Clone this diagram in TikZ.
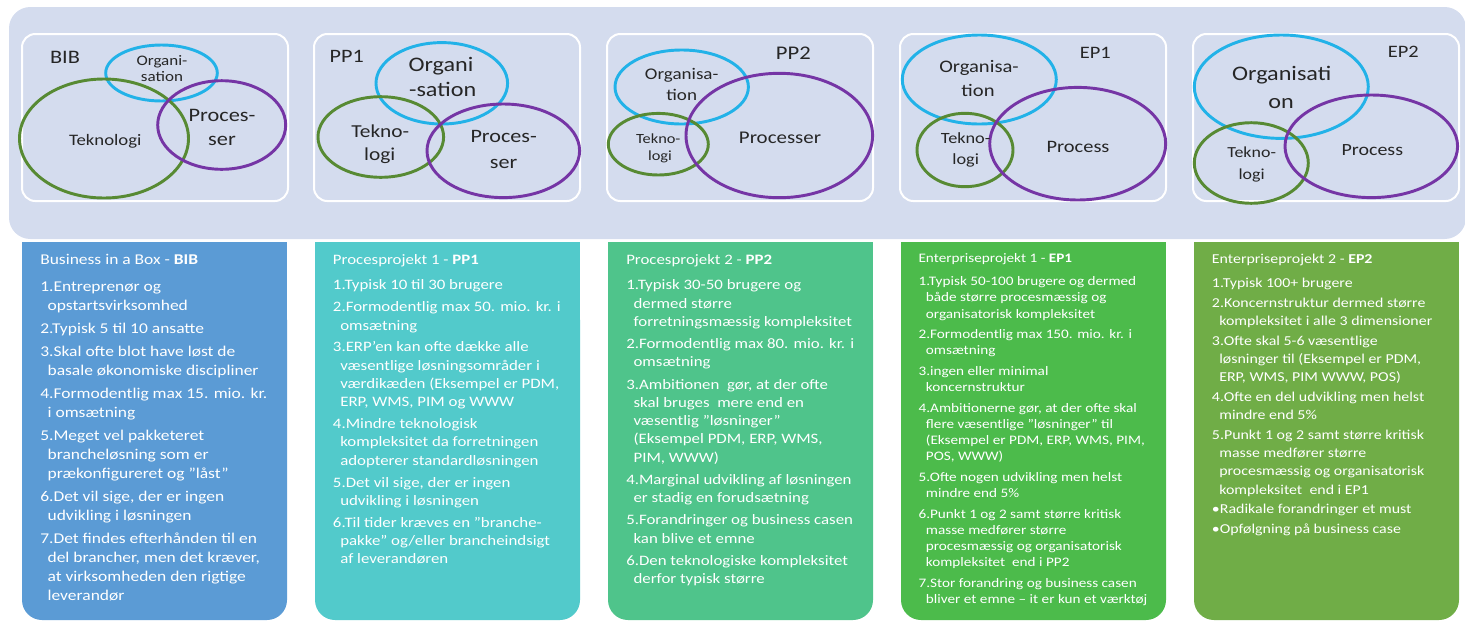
\documentclass[tikz,border=0pt]{standalone}
\usepackage{fontspec}
\setmainfont{Carlito}[FakeStretch=1.17]

\definecolor{bgpanel}{HTML}{D4DCEE}
\definecolor{orgcyan}{HTML}{22B2E8}
\definecolor{tekgreen}{HTML}{578A33}
\definecolor{procpurple}{HTML}{7535A5}
\definecolor{bibblue}{HTML}{5B9BD5}
\definecolor{ppteal}{HTML}{52CACB}
\definecolor{ppgreen}{HTML}{4FC48B}
\definecolor{epgreen}{HTML}{4CBB4B}
\definecolor{epolive}{HTML}{70AD47}
\definecolor{labelink}{HTML}{262626}

% list layout inside the coloured columns
\newlength\bxgap
\newcommand\contline{\\\hspace*{5.5pt}}
\newcommand\nextitem{\\[\bxgap]}
% #1 size, #2 leading, #3 gap between items, #4 title, #5 gap after title, #6 items
\newcommand\boxtext[6]{\parbox[t]{320pt}{\raggedright\fontsize{#1}{#2}\selectfont
  \setlength\bxgap{#3}#4\\[#5]#6}}
\newcommand\fsz[1]{\fontsize{#1}{#1}\selectfont}

\begin{document}
\begin{tikzpicture}[x=0.75pt,y=-0.75pt,
  panel/.style={draw=white, line width=1.5pt, fill=bgpanel, rounded corners=10pt},
  org/.style={draw=orgcyan, line width=2.2pt},
  tek/.style={draw=tekgreen, line width=2.2pt},
  proc/.style={draw=procpurple, line width=2.2pt},
  vl/.style={anchor=base, inner sep=0pt, text=labelink},
  bx/.style={anchor=base west, inner sep=0pt, text=white}]
\useasboundingbox (0,0) rectangle (1465,622);

% band behind the five diagrams
\fill[bgpanel, rounded corners=16pt] (9,7) rectangle (1466,239);

% diagram frames
\draw[panel] (22,34) rectangle (288,201);
\draw[panel] (314,34) rectangle (580,201);
\draw[panel] (607,34) rectangle (873,201);
\draw[panel] (900,34) rectangle (1166,201);
\draw[panel] (1193,34) rectangle (1459,201);

% ---- BIB
\draw[org]  (161.5,73) ellipse [x radius=55.8, y radius=28];
\draw[tek]  (104,138.5) ellipse [x radius=84.5, y radius=59.5];
\draw[proc] (221.7,125) ellipse [x radius=64, y radius=44.3];
\node[vl, font=\fsz{14.3pt}] (bibname) at (65,63.3) {BIB};
\node[vl, font=\fsz{10.9pt}] (biborga) at (162,65) {Organi-};
\node[vl, font=\fsz{10.9pt}] (biborgb) at (162,81.7) {sation};
\node[vl, font=\fsz{12pt}] (bibtek) at (105.3,145) {Teknologi};
\node[vl, font=\fsz{14.3pt}] (bibproca) at (222,121.7) {Proces-};
\node[vl, font=\fsz{14.3pt}] (bibprocb) at (222,145) {ser};

% ---- PP1
\draw[org]  (441.8,83.3) ellipse [x radius=65.8, y radius=40.7];
\draw[tek]  (380.8,137) ellipse [x radius=62.8, y radius=40.3];
\draw[proc] (503.3,150.8) ellipse [x radius=76.3, y radius=46.8];
\node[vl, font=\fsz{14.2pt}] (ppaname) at (346.7,62.7) {PP1};
\node[vl, font=\fsz{15.5pt}] (ppaorga) at (441,71.7) {Organi};
\node[vl, font=\fsz{15.5pt}] (ppaorgb) at (442.7,96) {-sation};
\node[vl, font=\fsz{13.7pt}] (ppateka) at (380.3,137.3) {Tekno-};
\node[vl, font=\fsz{13.7pt}] (ppatekb) at (379.7,160.7) {logi};
\node[vl, font=\fsz{14.2pt}] (ppaproca) at (503.7,142.7) {Proces-};
\node[vl, font=\fsz{14.2pt}] (ppaprocb) at (503.7,168.3) {ser};

% ---- PP2
\draw[org]  (681.7,87) ellipse [x radius=66.7, y radius=37];
\draw[tek]  (658.3,144.2) ellipse [x radius=50, y radius=30.8];
\draw[proc] (779.3,135.5) ellipse [x radius=93.3, y radius=62.2];
\node[vl, font=\fsz{14.5pt}] (ppbname) at (793.3,59.3) {PP2};
\node[vl, font=\fsz{12.2pt}] (ppborga) at (681.7,79.3) {Organisa-};
\node[vl, font=\fsz{12.2pt}] (ppborgb) at (681.7,100.7) {tion};
\node[vl, font=\fsz{10.5pt}] (ppbteka) at (658.3,143.3) {Tekno-};
\node[vl, font=\fsz{10.5pt}] (ppbtekb) at (660,160) {logi};
\node[vl, font=\fsz{13.4pt}] (ppbproc) at (780,143.3) {Processer};

% ---- EP1
\draw[org]  (979.3,79.5) ellipse [x radius=77, y radius=44.5];
\draw[tek]  (965,150) ellipse [x radius=48, y radius=36.7];
\draw[proc] (1077.7,143.7) ellipse [x radius=88, y radius=56.3];
\node[vl, font=\fsz{13.1pt}] (epaname) at (1095.3,58.3) {EP1};
\node[vl, font=\fsz{13.2pt}] (epaorga) at (979,72.7) {Organisa-};
\node[vl, font=\fsz{13.2pt}] (epaorgb) at (978,96.7) {tion};
\node[vl, font=\fsz{11.7pt}] (epateka) at (965.7,143.3) {Tekno-};
\node[vl, font=\fsz{11.7pt}] (epatekb) at (965.7,164.3) {logi};
\node[vl, font=\fsz{13.1pt}] (epaproc) at (1078,152.7) {Process};

% ---- EP2
\draw[org]  (1281.3,86.7) ellipse [x radius=87, y radius=51.7];
\draw[tek]  (1251.3,163) ellipse [x radius=57, y radius=40.3];
\draw[proc] (1371.3,146.3) ellipse [x radius=86.3, y radius=51.3];
\node[vl, font=\fsz{13.1pt}] (epbname) at (1403.3,57.3) {EP2};
\node[vl, font=\fsz{15.5pt}] (epborga) at (1281.7,80) {Organisati};
\node[vl, font=\fsz{15.5pt}] (epborgb) at (1281,108.3) {on};
\node[vl, font=\fsz{11.5pt}] (epbteka) at (1251.7,157.3) {Tekno-};
\node[vl, font=\fsz{11.5pt}] (epbtekb) at (1251.7,179.3) {logi};
\node[vl, font=\fsz{12.8pt}] (epbproc) at (1372.3,155) {Process};

% ---- coloured description columns (square top, rounded bottom)
\foreach \xa/\xb/\col in {22/287/bibblue, 315/580/ppteal, 608/873/ppgreen, 901/1166/epgreen, 1194/1459/epolive}{
  \fill[\col] (\xa,241.5) rectangle (\xb,400);
  \fill[\col, rounded corners=15pt] (\xa,300) rectangle (\xb,620);
}

\node[bx] (bibtxt) at (40,264.3) {\boxtext{11.2pt}{14.4pt}{2.66pt}{Business in a Box - \textbf{BIB}}{6.15pt}{%
1.Entreprenør og\contline opstartsvirksomhed\nextitem
2.Typisk 5 til 10 ansatte\nextitem
3.Skal ofte blot have løst de\contline basale økonomiske discipliner\nextitem
4.Formodentlig max 15. mio. kr.\contline i omsætning\nextitem
5.Meget vel pakketeret\contline brancheløsning som er\contline prækonfigureret og ”låst”\nextitem
6.Det vil sige, der er ingen\contline udvikling i løsningen\nextitem
7.Det findes efterhånden til en\contline del brancher, men det kræver,\contline at virksomheden den rigtige\contline leverandør}};

\node[bx] (ppatxt) at (332.7,264.3) {\boxtext{10.8pt}{13.7pt}{2.7pt}{Procesprojekt 1 - \textbf{PP1}}{5.55pt}{%
1.Typisk 10 til 30 brugere\nextitem
2.Formodentlig max 50. mio. kr. i\contline omsætning\nextitem
3.ERP’en kan ofte dække alle\contline væsentlige løsningsområder i\contline værdikæden (Eksempel er PDM,\contline ERP, WMS, PIM og WWW\nextitem
4.Mindre teknologisk\contline kompleksitet da forretningen\contline adopterer standardløsningen\nextitem
5.Det vil sige, der er ingen\contline udvikling i løsningen\nextitem
6.Til tider kræves en ”branche-\contline pakke” og/eller brancheindsigt\contline af leverandøren}};

\node[bx] (ppbtxt) at (626,264.3) {\boxtext{10.8pt}{13.65pt}{3.1pt}{Procesprojekt 2 - \textbf{PP2}}{5.6pt}{%
1.Typisk 30-50 brugere og\contline dermed større\contline forretningsmæssig kompleksitet\nextitem
2.Formodentlig max 80. mio. kr. i\contline omsætning\nextitem
3.Ambitionen~ gør, at der ofte\contline skal bruges~ mere end en\contline væsentlig ”løsninger”\contline (Eksempel PDM, ERP, WMS,\contline PIM, WWW)\nextitem
4.Marginal udvikling af løsningen\contline er stadig en forudsætning\nextitem
5.Forandringer og business casen\contline kan blive et emne\nextitem
6.Den teknologiske kompleksitet\contline derfor typisk større}};

\node[bx] (epatxt) at (918.3,262.3) {\boxtext{9.75pt}{12.2pt}{3.15pt}{Enterpriseprojekt 1 - \textbf{EP1}}{5.3pt}{%
1.Typisk 50-100 brugere og dermed\contline både større procesmæssig og\contline organisatorisk kompleksitet\nextitem
2.Formodentlig max 150. mio. kr. i\contline omsætning\nextitem
3.ingen eller minimal\contline koncernstruktur\nextitem
4.Ambitionerne gør, at der ofte skal\contline flere væsentlige ”løsninger” til\contline (Eksempel er PDM, ERP, WMS, PIM,\contline POS, WWW)\nextitem
5.Ofte nogen udvikling men helst\contline mindre end 5\%\nextitem
6.Punkt 1 og 2 samt større kritisk\contline masse medfører større\contline procesmæssig og organisatorisk\contline kompleksitet~ end i PP2\nextitem
7.Stor forandring og business casen\contline bliver et emne – it er kun et værktøj}};

\node[bx] (epbtxt) at (1211.7,263.3) {\boxtext{10.2pt}{13.7pt}{1.05pt}{Enterpriseprojekt 2 - \textbf{EP2}}{4.6pt}{%
1.Typisk 100+ brugere\nextitem
2.Koncernstruktur dermed større\contline kompleksitet i alle 3 dimensioner\nextitem
3.Ofte skal 5-6 væsentlige\contline løsninger til (Eksempel er PDM,\contline ERP, WMS, PIM WWW, POS)\nextitem
4.Ofte en del udvikling men helst\contline mindre end 5\%\nextitem
5.Punkt 1 og 2 samt større kritisk\contline masse medfører større\contline procesmæssig og organisatorisk\contline kompleksitet~ end i EP1\nextitem
•Radikale forandringer et must\nextitem
•Opfølgning på business case}};
\end{tikzpicture}
\end{document}
